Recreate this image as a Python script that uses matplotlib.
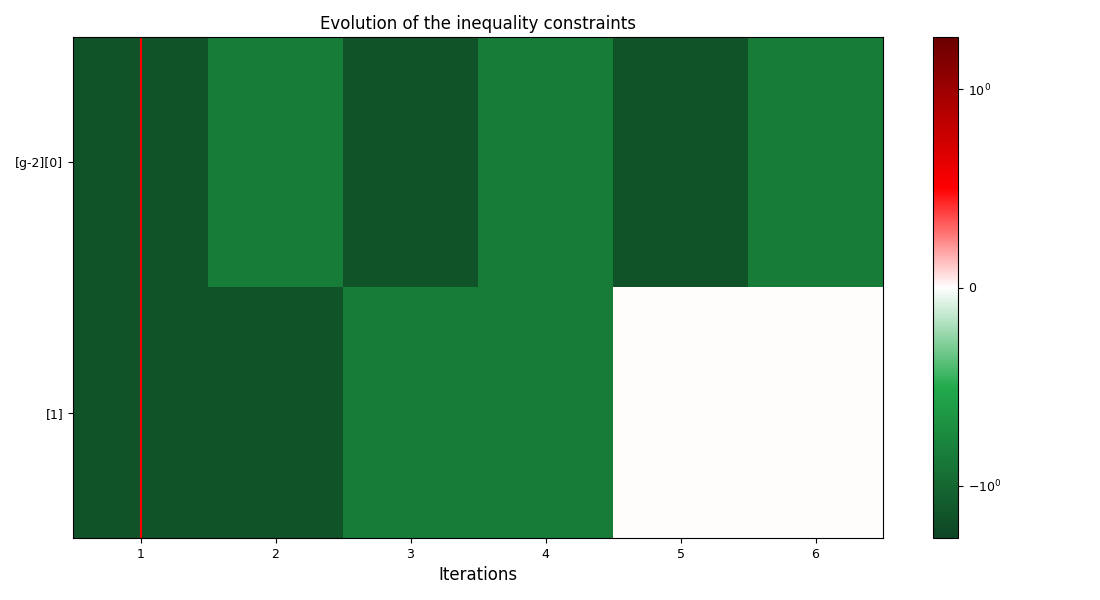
import numpy as np
import matplotlib
matplotlib.use("Agg")
import matplotlib.pyplot as plt
from matplotlib.colors import LinearSegmentedColormap, SymLogNorm

iterations = [1, 2, 3, 4, 5, 6]
constraint_labels = ["[g-2][0]", "[1]"]
g0 = [-1.47, -0.84, -1.47, -0.84, -1.47, -0.84]
g1 = [-1.47, -1.47, -0.84, -0.84, 0.003, 0.003]

data = np.array([g0, g1])

cmap = LinearSegmentedColormap.from_list(
    "gwr", [(0, "#0e4524"), (0.3, "#22aa4c"), (0.5, "#ffffff"),
            (0.7, "#ff0000"), (1, "#6a0000")])
norm = SymLogNorm(linthresh=1.0, linscale=1.0, vmin=-1.96, vmax=1.96, base=10)

fig = plt.figure(figsize=(11, 6), dpi=100)
ax = fig.add_axes([73/1100, 62/600, 810/1100, 501/600])
cax = fig.add_axes([933/1100, 62/600, 25/1100, 501/600])
im = ax.imshow(data, cmap=cmap, norm=norm, aspect="auto",
               extent=[0.5, 6.5, 1.5, -0.5], interpolation="nearest")
ax.axvline(1, color="red", linewidth=1.5)
ax.set_xticks(iterations)
ax.set_yticks([0, 1])
ax.set_yticklabels(constraint_labels)
ax.tick_params(labelsize=9)
ax.set_xlabel("Iterations", fontsize=12)
ax.set_title("Evolution of the inequality constraints", fontsize=12)
cb = fig.colorbar(im, cax=cax)
cb.set_ticks([-1, 0, 1])
cb.ax.tick_params(labelsize=9)
fig.savefig("out.png")
